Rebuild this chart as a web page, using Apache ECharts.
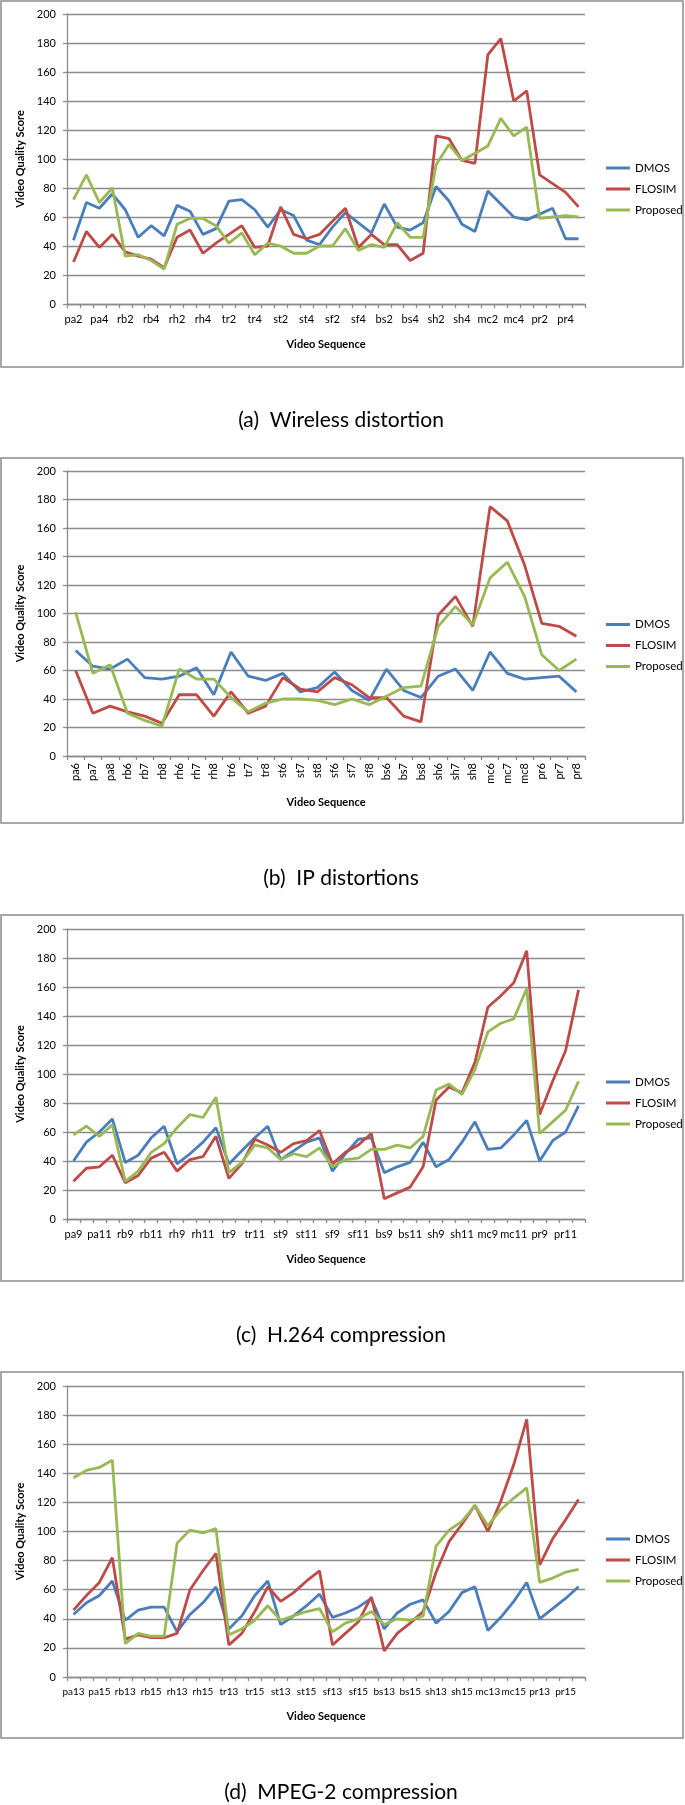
<!DOCTYPE html>
<html><head><meta charset="utf-8">
<script src="https://cdn.jsdelivr.net/npm/echarts@6/dist/echarts.min.js"></script>
<style>html,body{margin:0;padding:0;background:#fff;}#c{width:685px;height:1805px;}</style>
</head><body><div id="c"></div>
<script>
const seriesNames = ['DMOS','FLOSIM','Proposed'];
const yTicks = [0,20,40,60,80,100,120,140,160,180,200];

const cats1 = ['pa2','pa3','pa4','pa5','rb2','rb3','rb4','rb5','rh2','rh3','rh4','rh5','tr2','tr3','tr4','tr5','st2','st3','st4','st5','sf2','sf3','sf4','sf5','bs2','bs3','bs4','bs5','sh2','sh3','sh4','sh5','mc2','mc3','mc4','mc5','pr2','pr3','pr4','pr5'];
const dmos1 = [44,70,66,76,65,46,54,47,68,64,48,52,71,72,65,53,65,61,44,41,53,63,56,49,69,53,51,56,81,71,55,50,78,69,60,58,62,66,45,45];
const flosim1 = [29,50,39,48,36,33,31,25,46,51,35,42,48,54,39,40,67,48,45,48,57,66,39,48,41,41,30,35,116,114,99,97,172,183,140,147,89,83,77,67];
const prop1 = [72,89,70,80,33,34,30,24,55,59,59,54,42,49,34,42,40,35,35,40,40,52,37,41,39,56,46,46,96,110,99,104,109,128,116,122,59,60,61,60];

const cats2 = ['pa6','pa7','pa8','rb6','rb7','rb8','rh6','rh7','rh8','tr6','tr7','tr8','st6','st7','st8','sf6','sf7','sf8','bs6','bs7','bs8','sh6','sh7','sh8','mc6','mc7','mc8','pr6','pr7','pr8'];
const dmos2 = [74,63,61,68,55,54,56,62,43,73,56,53,58,45,48,59,46,39,61,46,41,56,61,46,73,58,54,55,56,45];
const flosim2 = [60,30,35,31,28,23,43,43,28,45,30,35,55,47,45,55,50,41,41,28,24,99,112,91,175,165,134,93,91,84];
const prop2 = [101,58,64,30,25,21,61,54,54,41,31,37,40,40,39,36,40,36,42,48,49,91,105,92,125,136,112,71,60,68];

const cats3 = ['pa9','pa10','pa11','pa12','rb9','rb10','rb11','rb12','rh9','rh10','rh11','rh12','tr9','tr10','tr11','tr12','st9','st10','st11','st12','sf9','sf10','sf11','sf12','bs9','bs10','bs11','bs12','sh9','sh10','sh11','sh12','mc9','mc10','mc11','mc12','pr9','pr10','pr11','pr12'];
const dmos3 = [40,53,60,69,39,44,56,64,38,45,53,63,38,47,56,64,41,47,53,56,33,45,55,56,32,36,39,53,36,41,53,67,48,49,58,68,40,54,60,78];
const flosim3 = [26,35,36,44,25,30,42,46,33,41,43,57,28,38,55,51,46,52,54,61,38,46,51,59,14,18,22,36,82,91,87,108,146,154,163,185,72,95,116,158];
const prop3 = [58,64,57,65,26,33,46,52,63,72,70,84,32,39,51,49,41,45,43,49,36,41,42,48,48,51,49,57,89,93,86,103,129,135,138,159,59,67,75,95];

const cats4 = ['pa13','pa14','pa15','pa16','rb13','rb14','rb15','rb16','rh13','rh14','rh15','rh16','tr13','tr14','tr15','tr16','st13','st14','st15','st16','sf13','sf14','sf15','sf16','bs13','bs14','bs15','bs16','sh13','sh14','sh15','sh16','mc13','mc14','mc15','mc16','pr13','pr14','pr15','pr16'];
const dmos4 = [43,51,56,66,39,46,48,48,31,43,51,62,33,42,56,66,36,42,49,57,41,44,48,54,33,44,50,53,37,45,58,62,32,41,52,65,40,47,54,62];
const flosim4 = [46,56,65,82,26,29,27,27,30,60,73,85,22,30,45,62,52,58,66,73,22,30,38,55,18,30,37,45,72,93,105,118,100,121,146,177,77,95,108,122];
const prop4 = [137,142,144,149,23,30,28,28,92,101,99,102,29,33,39,49,39,42,45,47,31,37,40,45,36,40,39,42,90,101,107,118,104,115,123,130,65,68,72,74];

const captions = ['(a)  Wireless distortion','(b)  IP distortions','(c)  H.264 compression','(d)  MPEG-2 compression'];

const panels = [
  {cats:cats1, data:[dmos1,flosim1,prop1], boxTop:1, boxH:366, gridTop:14, gridH:290, rotate:0, labelInt:1, labelSize:11, nameGap:35, cap:420},
  {cats:cats2, data:[dmos2,flosim2,prop2], boxTop:458, boxH:365, gridTop:471, gridH:285, rotate:90, labelInt:0, labelSize:11, nameGap:41, cap:878},
  {cats:cats3, data:[dmos3,flosim3,prop3], boxTop:915, boxH:366, gridTop:929, gridH:290, rotate:0, labelInt:1, labelSize:11, nameGap:35, cap:1335},
  {cats:cats4, data:[dmos4,flosim4,prop4], boxTop:1372, boxH:366, gridTop:1386, gridH:291, rotate:0, labelInt:1, labelSize:10, nameGap:34, cap:1792}
];
const colors = ['#4A7EBB','#BE4B48','#98B954'];
const FONT = 'Lato, "Open Sans", sans-serif';
const gridColor = '#8C8C8C';

const grid=[], xAxis=[], yAxis=[], series=[], legend=[], graphic=[];
panels.forEach((p,k)=>{
  grid.push({left:67, width:518, top:p.gridTop, height:p.gridH, containLabel:false});
  xAxis.push({
    type:'category', gridIndex:k, data:p.cats, boundaryGap:true,
    name:'Video Sequence', nameLocation:'middle', nameGap:p.nameGap,
    nameTextStyle:{fontFamily:FONT, fontSize:11, fontWeight:'bold', color:'#000'},
    axisLine:{lineStyle:{color:gridColor, width:1.3}},
    axisTick:{show:true, interval:0, length:4, lineStyle:{color:gridColor, width:1.3}},
    axisLabel:{interval:p.labelInt, rotate:p.rotate, margin:p.rotate?7:10, fontFamily:FONT, fontSize:p.labelSize, color:'#000', hideOverlap:false},
    splitLine:{show:false}
  });
  yAxis.push({
    type:'value', gridIndex:k, min:yTicks[0], max:yTicks[yTicks.length-1], interval:yTicks[1]-yTicks[0],
    name:'Video Quality Score', nameLocation:'middle', nameGap:39, nameRotate:90,
    nameTextStyle:{fontFamily:FONT, fontSize:11, fontWeight:'bold', color:'#000'},
    axisLine:{show:true, lineStyle:{color:gridColor, width:1.3}},
    axisTick:{show:true, length:4, lineStyle:{color:gridColor, width:1.3}},
    axisLabel:{margin:11, fontFamily:FONT, fontSize:11, color:'#000'},
    splitLine:{show:true, lineStyle:{color:gridColor, width:1.3}}
  });
  seriesNames.forEach((n,j)=>{
    series.push({type:'line', name:n, xAxisIndex:k, yAxisIndex:k, data:p.data[j], symbol:'none',
      lineStyle:{color:colors[j], width:2.8}, itemStyle:{color:colors[j]}, z:2+j, silent:true});
  });
  const mid = p.boxTop + p.boxH/2;
  legend.push({orient:'vertical', left:601, top:mid-28, data:seriesNames, icon:'rect', itemWidth:24, itemHeight:3,
    itemGap:7, textStyle:{fontFamily:FONT, fontSize:11.5, color:'#000', lineHeight:14}, selectedMode:false});
  graphic.push({type:'rect', shape:{x:1, y:p.boxTop, width:682, height:p.boxH}, style:{fill:'none', stroke:'#8A8A8A', lineWidth:1.5}, z:-1});
  graphic.push({type:'text', x:341, y:p.cap, style:{text:captions[k], fill:'#000', font:'21px '+FONT, textAlign:'center', textVerticalAlign:'middle'}});
});

const chart = echarts.init(document.getElementById('c'), null, {renderer:'canvas'});
chart.setOption({animation:false, backgroundColor:'#fff', grid, xAxis, yAxis, series, legend, graphic});
</script></body></html>
